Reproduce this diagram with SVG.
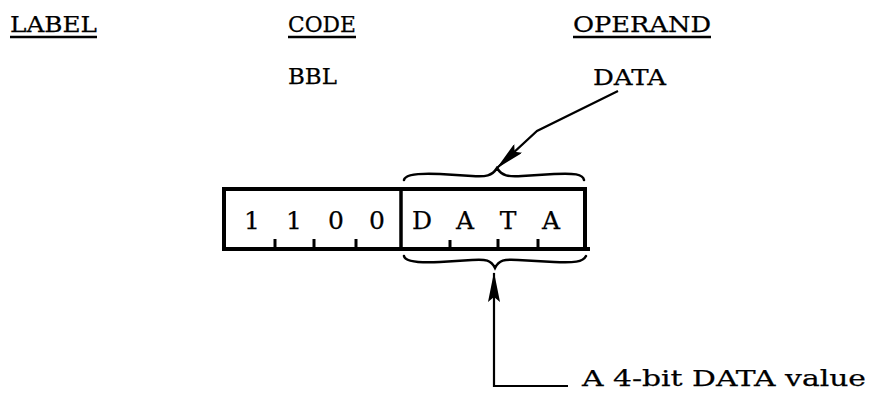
<svg xmlns="http://www.w3.org/2000/svg" width="869" height="393" viewBox="0 0 869 393">
<style>
.t{font-family:"DejaVu Serif","Liberation Serif",serif;font-size:23px;fill:#000;stroke:#000;stroke-width:0.25}
.d{font-size:25px}
.ul{stroke:#000;stroke-width:2.5;fill:none}
.box{stroke:#000;stroke-width:4;fill:none}
.ln{stroke:#000;stroke-width:2.2;fill:none}
.br{stroke:#000;stroke-width:2.5;fill:none;stroke-linecap:round}
.c{text-anchor:middle}
</style>
<defs>
<marker id="ah" markerUnits="userSpaceOnUse" markerWidth="30" markerHeight="12" refX="29" refY="6" orient="auto">
<path d="M0,0 L30,6 L0,12 L5,6 Z" fill="#000"/>
</marker>
</defs>
<g id="headers">
<text class="t" x="10" y="32" textLength="87" lengthAdjust="spacingAndGlyphs">LABEL</text>
<line class="ul" x1="10" y1="37" x2="97" y2="37"/>
<text class="t" x="288" y="32" textLength="68" lengthAdjust="spacingAndGlyphs">CODE</text>
<line class="ul" x1="288" y1="37" x2="356" y2="37"/>
<text class="t" x="573" y="32" textLength="138" lengthAdjust="spacingAndGlyphs">OPERAND</text>
<line class="ul" x1="573" y1="37" x2="711" y2="37"/>
</g>
<g id="code">
<text class="t" x="288" y="84" textLength="49" lengthAdjust="spacingAndGlyphs">BBL</text>
</g>
<g id="operand">
<text class="t" x="593" y="85" textLength="73" lengthAdjust="spacingAndGlyphs">DATA</text>
</g>
<g id="word">
<rect class="box" x="224" y="189" width="361" height="60"/>
<line x1="585" y1="249" x2="590" y2="249" stroke="#000" stroke-width="4"/>
<line x1="401" y1="189" x2="401" y2="249" stroke="#000" stroke-width="3.5"/>
<g stroke="#000" stroke-width="3">
<line x1="275" y1="249" x2="275" y2="239"/>
<line x1="314" y1="249" x2="314" y2="239"/>
<line x1="356" y1="249" x2="356" y2="239"/>
<line x1="450" y1="249" x2="450" y2="240"/>
<line x1="498" y1="249" x2="498" y2="239"/>
<line x1="538" y1="249" x2="538" y2="239"/>
</g>
<text class="t d c" x="252" y="229">1</text>
<text class="t d c" x="294" y="229">1</text>
<text class="t d c" x="336" y="229">0</text>
<text class="t d c" x="377" y="229">0</text>
<text class="t d c" x="422" y="229">D</text>
<text class="t d c" x="465" y="229">A</text>
<text class="t d c" x="508" y="229">T</text>
<text class="t d c" x="551" y="229">A</text>
</g>
<g id="braces">
<path class="br" d="M404,180 C405,174 420,173 440,174 L472,176 C486,177 492,176 497,168 C502,176 508,177 522,176 L554,174 C574,173 583,174 584,180"/>
<path class="br" d="M404,256 C405,262 420,263 440,262 L472,260 C486,259 491,260 495,268 C499,260 504,259 518,260 L554,262 C574,263 583,262 586,256"/>
</g>
<g id="connectors">
<path class="ln" d="M618,91 L537,131 L497,168" marker-end="url(#ah)"/>
<path class="ln" d="M568,386 L494,386 L494,273" marker-end="url(#ah)"/>
</g>
<g id="note">
<text class="t" x="582" y="386" textLength="284" lengthAdjust="spacingAndGlyphs">A 4-bit DATA value</text>
</g>
</svg>
